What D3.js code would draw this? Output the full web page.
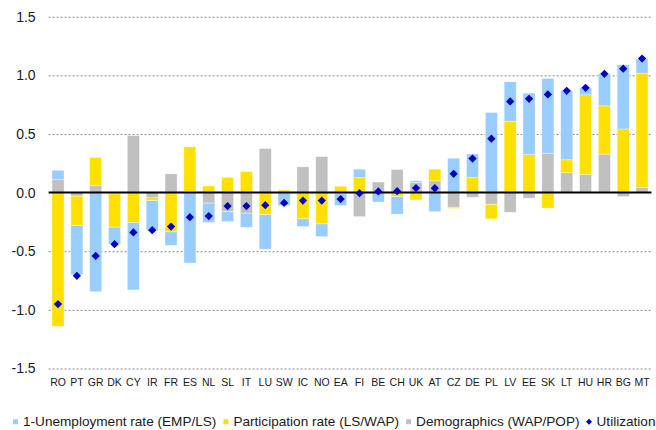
<!DOCTYPE html>
<html>
<head>
<meta charset="utf-8">
<script src="https://cdn.jsdelivr.net/npm/d3@7"></script>
<style>
    body { margin: 0; background: #fff; }
    svg { font-family: "Liberation Sans", Arial, sans-serif; display: block; }
</style>
</head>
<body>
<div class="canvas"></div>
<script>
// Countries on the x axis
const countries = ['RO', 'PT', 'GR', 'DK', 'CY', 'IR', 'FR', 'ES', 'NL', 'SL', 'IT', 'LU', 'SW', 'IC', 'NO', 'EA',
    'FI', 'BE', 'CH', 'UK', 'AT', 'CZ', 'DE', 'PL', 'LV', 'EE', 'SK', 'LT', 'HU', 'HR', 'BG', 'MT'];

// 1-Unemployment rate (EMP/LS)
const unemployment = [0.08, -0.42, -0.845, -0.143, -0.574, -0.256, -0.115, -0.60, -0.165, -0.085, -0.12, -0.295, -0.11, -0.066, -0.108, -0.10,
    0.072, -0.08, -0.15, 0.015, -0.162, 0.293, 0.202, 0.683, 0.336, 0.524, 0.637, 0.59, 0.062, 0.273, 0.547, 0.122];

// Participation rate (LS/WAP)
const participation = [-1.14, -0.25, 0.24, -0.285, -0.256, -0.023, -0.335, 0.38, 0.057, 0.13, 0.18, -0.188, 0.01, -0.224, -0.267, 0.054,
    0.128, 0, -0.034, -0.062, 0.10, -0.01, 0.128, -0.124, 0.609, 0.324, -0.133, 0.11, 0.68, 0.412, 0.543, 0.976];

// Demographics (WAP/POP)
const demographics = [0.11, -0.03, 0.06, -0.01, 0.486, -0.045, 0.16, 0.01, -0.09, -0.162, -0.176, 0.376, 0.012, 0.22, 0.307, -0.01,
    -0.205, 0.09, 0.196, 0.085, 0.10, -0.125, -0.04, -0.10, -0.168, -0.048, 0.336, 0.17, 0.154, 0.328, -0.034, 0.043];

// Utilization (diamonds)
const utilization = [-0.95, -0.71, -0.54, -0.44, -0.34, -0.32, -0.29, -0.21, -0.20, -0.115, -0.115, -0.107, -0.088, -0.068, -0.068, -0.055,
    -0.005, 0.01, 0.012, 0.039, 0.038, 0.16, 0.29, 0.46, 0.777, 0.80, 0.837, 0.868, 0.894, 1.013, 1.057, 1.143];

// Y axis ticks
const yTicks = [-1.5, -1.0, -0.5, 0.0, 0.5, 1.0, 1.5];

// Legend entries
const legendLabels = ['1-Unemployment rate (EMP/LS)', 'Participation rate (LS/WAP)', 'Demographics (WAP/POP)', 'Utilization'];

const chart = {
    width: 656,
    height: 430,
    left: 48.6,
    right: 651.5,
    top: 16.7,
    bottom: 368.5,
    colors: { unemp: '#99ccff', partic: '#ffe000', demog: '#c0c0c0', util: '#0000c0' },

    init: function() {
        const svg = d3.select('.canvas').append('svg')
            .attr('width', chart.width)
            .attr('height', chart.height);

        // Table for the stack: gray sits next to zero, then yellow, then blue
        const table = countries.map((c, i) => ({
            country: c,
            demog: demographics[i],
            partic: participation[i],
            unemp: unemployment[i],
            util: utilization[i]
        }));

        const xScale = d3.scaleBand()
            .domain(countries)
            .range([chart.left, chart.right])
            .paddingInner(0.36)
            .paddingOuter(0.18);

        const yScale = d3.scaleLinear()
            .domain([-1.5, 1.5])
            .range([chart.bottom, chart.top]);

        // Dashed grid
        svg.append('g')
            .attr('class', 'grid')
            .attr('transform', `translate(${chart.left},0)`)
            .call(d3.axisLeft(yScale).tickValues(yTicks.filter(t => t !== 0))
                .tickSize(-(chart.right - chart.left)).tickFormat(''))
            .call(g => g.select('.domain').remove())
            .call(g => g.selectAll('line')
                .attr('stroke', '#8a8a8a')
                .attr('stroke-dasharray', '2,2'));

        // Stacked bars
        const stack = d3.stack()
            .keys(['demog', 'partic', 'unemp'])
            .offset(d3.stackOffsetDiverging);
        const series = stack(table);

        svg.append('g').selectAll('g')
            .data(series)
            .join('g')
                .attr('fill', d => chart.colors[d.key])
            .selectAll('rect')
            .data(d => d)
            .join('rect')
                .attr('x', d => xScale(d.data.country))
                .attr('width', xScale.bandwidth())
                .attr('y', d => yScale(Math.max(d[0], d[1])))
                .attr('height', d => Math.abs(yScale(d[0]) - yScale(d[1])))
                .attr('stroke', '#ffffff')
                .attr('stroke-opacity', 0.45)
                .attr('stroke-width', 0.8);

        // Zero line
        svg.append('line')
            .attr('x1', chart.left)
            .attr('x2', chart.right)
            .attr('y1', yScale(0))
            .attr('y2', yScale(0))
            .attr('stroke', '#000')
            .attr('stroke-width', 2);

        // Utilization diamonds
        const diamond = d3.symbol().type(d3.symbolSquare).size(34);
        svg.append('g').selectAll('path')
            .data(table)
            .join('path')
                .attr('d', diamond)
                .attr('fill', chart.colors.util)
                .attr('transform', d => `translate(${xScale(d.country) + xScale.bandwidth() / 2},${yScale(d.util)}) rotate(45)`);

        // Y axis labels
        svg.append('g')
            .attr('transform', `translate(${chart.left},0)`)
            .call(d3.axisLeft(yScale).tickValues(yTicks).tickSize(0).tickPadding(13)
                .tickFormat(d => d.toFixed(1)))
            .call(g => g.select('.domain').remove())
            .call(g => g.selectAll('text')
                .attr('font-size', 14)
                .attr('font-family', '"Liberation Sans", Arial, sans-serif')
                .attr('fill', '#1a1a1a'));

        // Country labels
        svg.append('g')
            .attr('transform', `translate(0,${chart.bottom})`)
            .call(d3.axisBottom(xScale).tickSize(0).tickPadding(10))
            .call(g => g.select('.domain').remove())
            .call(g => g.selectAll('text')
                .attr('font-size', 10.5)
                .attr('font-family', '"Liberation Sans", Arial, sans-serif')
                .attr('fill', '#1a1a1a'));

        chart.legend(svg);
    },

    legend: function(svg) {
        const colors = [chart.colors.unemp, chart.colors.partic, chart.colors.demog, chart.colors.util];
        const g = svg.append('g').attr('transform', 'translate(13,421.7)');
        let x = 0;
        legendLabels.forEach((label, i) => {
            if (i < 3) {
                g.append('rect')
                    .attr('x', x).attr('y', -2.5)
                    .attr('width', 5).attr('height', 5)
                    .attr('fill', colors[i]);
            } else {
                g.append('path')
                    .attr('d', d3.symbol().type(d3.symbolSquare).size(18))
                    .attr('fill', colors[i])
                    .attr('transform', `translate(${x + 2.5},0) rotate(45)`);
            }
            const text = g.append('text')
                .attr('x', x + 10)
                .attr('dy', '0.35em')
                .attr('font-size', 13.6)
                .attr('fill', '#1a1a1a')
                .text(label);
            x += 10 + text.node().getComputedTextLength() + 7;
        });
    }
};

document.addEventListener('DOMContentLoaded', chart.init);
</script>
</body>
</html>
